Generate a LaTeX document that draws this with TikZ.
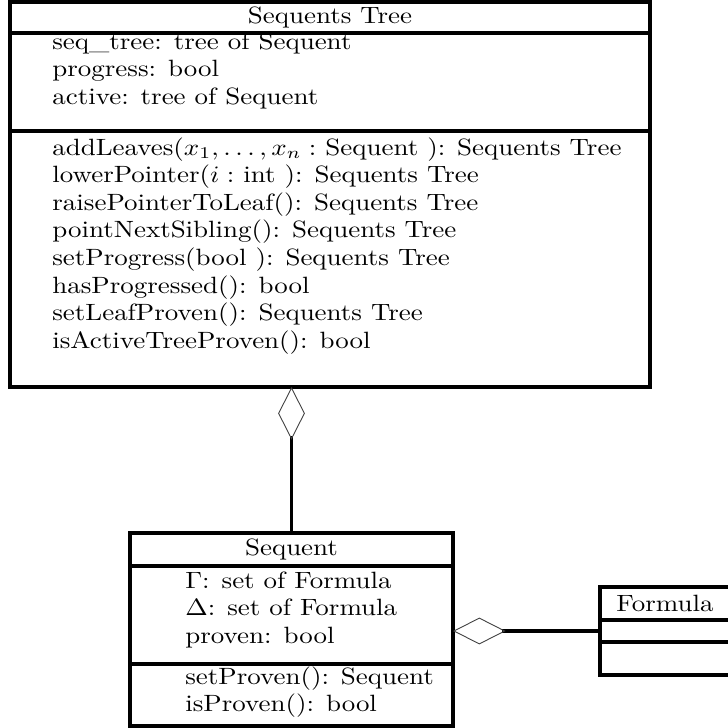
\documentclass[tikz,border=0pt]{standalone}
\usepackage{amsmath,amssymb}
\usetikzlibrary{positioning, arrows.meta}
\newcommand{\pxl}{0.56pt}
\newcommand{\umltext}[1]{\scalebox{1.51}[1.32]{\fontsize{10}{12}\selectfont #1}}
\tikzset{
    part/.style={draw, line width=1.75pt, inner sep=0pt, outer sep=0pt},
    classhead/.style={part, anchor=north west},
    member/.style={anchor=base west, inner sep=0pt},
    link/.style={line width=1.75pt},
    hollow/.style={{Diamond[open, length=29.5pt, width=15pt, line width=0.5pt, color=black!75]}-}
}

\begin{document}
\begin{tikzpicture}[x=\pxl, y=-\pxl]
    \clip (0,0) rectangle (728,728);
    % Sequents Tree class
    \node[classhead, minimum width=640*\pxl, minimum height=31*\pxl] (tree) at (10,2) {\umltext{Sequents Tree}};
    \node[part, below=0pt of tree, minimum width=640*\pxl, minimum height=98*\pxl] (treeA) {};
    \node[part, below=0pt of treeA, minimum width=640*\pxl, minimum height=256*\pxl] (treeO) {};
    \foreach \txt [count=\i] in {seq\_tree: tree of Sequent, progress: bool, active: tree of Sequent}
        \node[member] (ta\i) at (52, 21.5+27.5*\i) {\umltext{\txt}};
    \foreach \txt [count=\i] in {{addLeaves($x_1,\ldots,x_n:$ Sequent ): Sequents Tree},
        {lowerPointer($i:$ int ): Sequents Tree}, raisePointerToLeaf(): Sequents Tree,
        pointNextSibling(): Sequents Tree, setProgress(bool ): Sequents Tree,
        hasProgressed(): bool, setLeafProven(): Sequents Tree, isActiveTreeProven(): bool}
        \node[member] (to\i) at (52, 127.4+27.6*\i) {\umltext{\txt}};

    % Sequent class
    \node[classhead, minimum width=323*\pxl, minimum height=33*\pxl] (seq) at (130,533) {\umltext{Sequent}};
    \node[part, below=0pt of seq, minimum width=323*\pxl, minimum height=98*\pxl] (seqA) {};
    \node[part, below=0pt of seqA, minimum width=323*\pxl, minimum height=62*\pxl] (seqO) {};
    \foreach \txt [count=\i] in {$\Gamma$: set of Formula, $\Delta$: set of Formula, proven: bool}
        \node[member] (sa\i) at (185, 560.5+27.5*\i) {\umltext{\txt}};
    \foreach \txt [count=\i] in {setProven(): Sequent, isProven(): bool}
        \node[member] (so\i) at (185, 657+27*\i) {\umltext{\txt}};

    % Formula class
    \node[classhead, minimum width=130*\pxl, minimum height=33*\pxl] (form) at (600,587) {\umltext{Formula}};
    \node[part, below=0pt of form, minimum width=130*\pxl, minimum height=22*\pxl] (formA) {};
    \node[part, below=0pt of formA, minimum width=130*\pxl, minimum height=33*\pxl] (formO) {};

    % aggregations
    \draw[link, hollow] (seq.north |- treeO.south) -- (seq.north);
    \draw[link, hollow] (formA.west -| seqA.east) -- (formA.west);
\end{tikzpicture}
\end{document}
